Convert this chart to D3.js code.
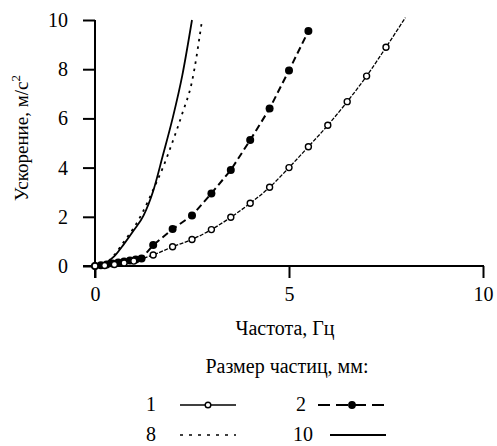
<!DOCTYPE html>
<html>
<head>
<meta charset="utf-8">
<script src="https://cdn.jsdelivr.net/npm/d3@7"></script>
<style>
  body { margin: 0; background: #fff; }
  svg { display: block; font-family: "Times New Roman", "Liberation Serif", serif; }
</style>
</head>
<body>
<svg width="497" height="446"></svg>
<script>
// data
const xTicks = [0, 5, 10];
const yTicks = [0, 2, 4, 6, 8, 10];

// particle size 1 mm (open circles)
const freq1 = [0, 0.25, 0.5, 0.75, 1, 1.5, 2, 2.5, 3, 3.5, 4, 4.5, 5, 5.5, 6, 6.5, 7, 7.5];
const accel1 = [0, 0.02, 0.06, 0.12, 0.2, 0.45, 0.78, 1.08, 1.48, 1.98, 2.55, 3.2, 4.0, 4.85, 5.72, 6.68, 7.72, 8.89];
const lineEnd1 = [8, 10.1];

// particle size 2 mm (filled dots)
const freq2 = [0, 0.15, 0.3, 0.45, 0.6, 0.75, 0.9, 1.05, 1.2, 1.5, 2, 2.5, 3, 3.5, 4, 4.5, 5, 5.5];
const accel2 = [0, 0.03, 0.06, 0.1, 0.14, 0.18, 0.22, 0.26, 0.3, 0.85, 1.5, 2.05, 2.95, 3.9, 5.12, 6.4, 7.95, 9.55];

// particle size 8 mm (dotted)
const freq8 = [0, 0.25, 0.5, 0.75, 1, 1.25, 1.5, 1.75, 2, 2.25, 2.5, 2.75];
const accel8 = [0, 0.1, 0.45, 1.0, 1.55, 2.25, 3.1, 4.0, 5.05, 6.2, 7.5, 9.9];

// particle size 10 mm (solid)
const freq10 = [0, 0.25, 0.5, 0.75, 1, 1.25, 1.5, 1.75, 2, 2.25, 2.5];
const accel10 = [0, 0.1, 0.4, 0.9, 1.45, 2.05, 3.05, 4.5, 6.0, 7.75, 10.0];

const svg = d3.select('svg');

const x = d3.scaleLinear().domain([0, 10]).range([95, 483]);
const y = d3.scaleLinear().domain([0, 10]).range([266, 20]);
const tickLen = 12;
const fontSize = 20;

const zip = (xs, ys) => xs.map((v, i) => [v, ys[i]]);
const line = d3.line().x((d) => x(d[0])).y((d) => y(d[1]));
const smooth = d3.line().x((d) => x(d[0])).y((d) => y(d[1])).curve(d3.curveMonotoneX);

// axes
const yAxis = svg
  .append('g')
  .attr('transform', `translate(${x(0)},0)`)
  .call(d3.axisLeft(y).tickValues(yTicks).tickSize(tickLen).tickSizeOuter(0).tickPadding(15));
const xAxis = svg
  .append('g')
  .attr('transform', `translate(0,${y(0)})`)
  .call(d3.axisBottom(x).tickValues(xTicks).tickSize(tickLen).tickSizeOuter(0).tickPadding(9));

[yAxis, xAxis].forEach((g) => {
  g.attr('font-family', null).attr('font-size', null);
  g.select('.domain').remove();
  g.selectAll('.tick line').attr('stroke', '#000').attr('stroke-width', 2);
  g.selectAll('.tick text')
    .attr('fill', '#000')
    .attr('font-size', fontSize);
});

svg.append('line')
  .attr('x1', x(0)).attr('x2', x(0))
  .attr('y1', y(10)).attr('y2', y(0) + tickLen)
  .attr('stroke', '#000').attr('stroke-width', 2);
svg.append('line')
  .attr('x1', x(0) - tickLen).attr('x2', x(10) + 1)
  .attr('y1', y(0)).attr('y2', y(0))
  .attr('stroke', '#000').attr('stroke-width', 2);

// curves
const plot = svg.append('g');

plot.append('path')
  .datum(zip(freq10, accel10))
  .attr('d', smooth)
  .attr('fill', 'none').attr('stroke', '#000').attr('stroke-width', 1.8);

plot.append('path')
  .datum(zip(freq8, accel8))
  .attr('d', smooth)
  .attr('fill', 'none').attr('stroke', '#000').attr('stroke-width', 1.8)
  .attr('stroke-dasharray', '2.5,5');

plot.append('path')
  .datum(zip(freq1, accel1).concat([lineEnd1]))
  .attr('d', smooth)
  .attr('fill', 'none').attr('stroke', '#000').attr('stroke-width', 1.3)
  .attr('stroke-dasharray', '4,1.5');

plot.append('path')
  .datum(zip(freq2, accel2))
  .attr('d', line)
  .attr('fill', 'none').attr('stroke', '#000').attr('stroke-width', 2)
  .attr('stroke-dasharray', '7,4');

plot.selectAll('.m2')
  .data(zip(freq2, accel2))
  .join('circle')
  .attr('class', 'm2')
  .attr('cx', (d) => x(d[0])).attr('cy', (d) => y(d[1]))
  .attr('r', 4).attr('fill', '#000');

plot.selectAll('.m1')
  .data(zip(freq1, accel1))
  .join('circle')
  .attr('class', 'm1')
  .attr('cx', (d) => x(d[0])).attr('cy', (d) => y(d[1]))
  .attr('r', 3).attr('fill', '#fff').attr('stroke', '#000').attr('stroke-width', 1.4);

// axis titles
svg.append('text')
  .attr('transform', 'translate(28,138) rotate(-90)')
  .attr('text-anchor', 'middle')
  .attr('font-size', 19)
  .html('Ускорение, м/с<tspan dy="-8" font-size="13">2</tspan>');

svg.append('text')
  .attr('x', 285).attr('y', 335)
  .attr('text-anchor', 'middle')
  .attr('font-size', fontSize)
  .text('Частота, Гц');

svg.append('text')
  .attr('x', 287).attr('y', 373)
  .attr('text-anchor', 'middle')
  .attr('font-size', fontSize)
  .text('Размер частиц, мм:');

// legend
const legendItems = [
  { label: '1', lx: 156, y: 405, x1: 180, x2: 236, dash: null, w: 1.5, marker: 'open' },
  { label: '2', lx: 306, y: 405, x1: 318, x2: 386, dash: '12,6', w: 2, marker: 'filled' },
  { label: '8', lx: 156, y: 435, x1: 180, x2: 236, dash: '3,6', w: 1.5, marker: null },
  { label: '10', lx: 313, y: 435, x1: 330, x2: 386, dash: null, w: 2, marker: null }
];

const leg = svg.selectAll('.leg').data(legendItems).join('g').attr('class', 'leg');
leg.append('text')
  .attr('x', (d) => d.lx).attr('y', (d) => d.y + 6)
  .attr('text-anchor', 'end')
  .attr('font-size', fontSize)
  .text((d) => d.label);
leg.append('line')
  .attr('x1', (d) => d.x1).attr('x2', (d) => d.x2)
  .attr('y1', (d) => d.y).attr('y2', (d) => d.y)
  .attr('stroke', '#000').attr('stroke-width', (d) => d.w)
  .attr('stroke-dasharray', (d) => d.dash);
leg.filter((d) => d.marker)
  .append('circle')
  .attr('cx', (d) => (d.x1 + d.x2) / 2).attr('cy', (d) => d.y)
  .attr('r', (d) => (d.marker === 'open' ? 2.8 : 3.2))
  .attr('fill', (d) => (d.marker === 'open' ? '#fff' : '#000'))
  .attr('stroke', '#000').attr('stroke-width', 1.4);
</script>
</body>
</html>
